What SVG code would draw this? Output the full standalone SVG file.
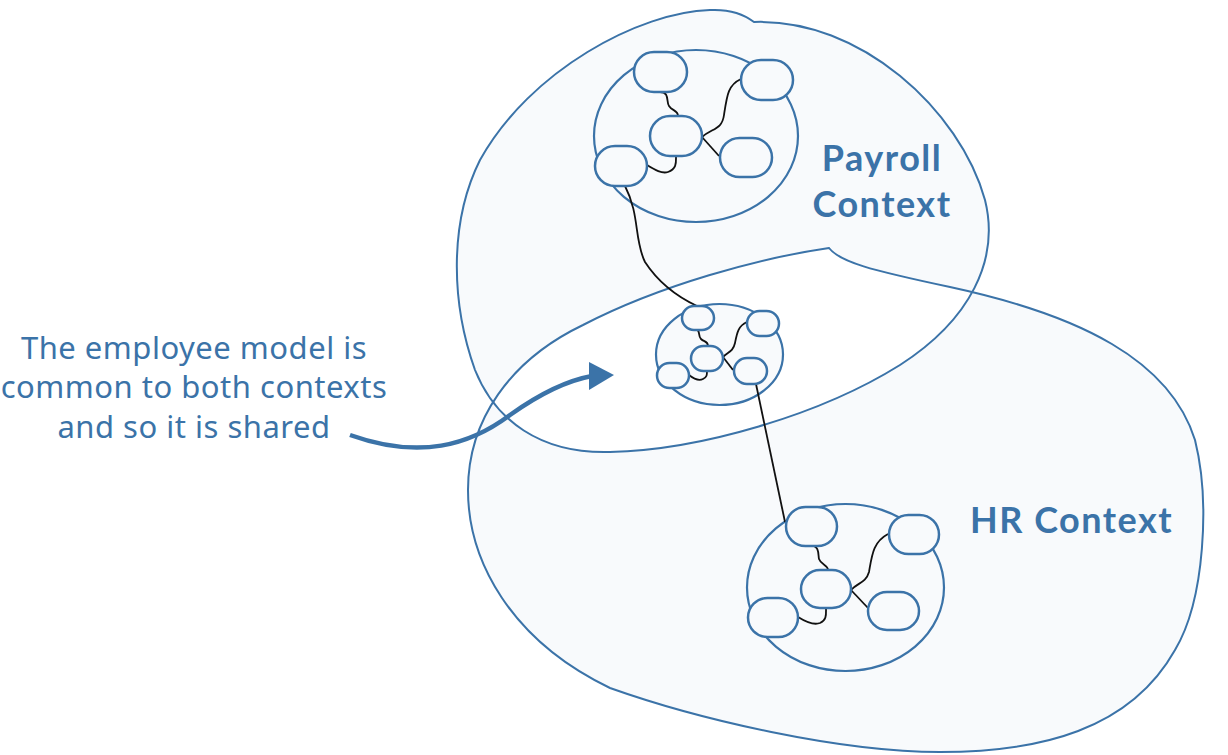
<svg xmlns="http://www.w3.org/2000/svg" width="1228" height="755" viewBox="0 0 1228 755">
<defs>
<style>
.blob{fill:#f8fafc;stroke:none}
.outline{fill:none;stroke:#3b73a8;stroke-width:2}
.ring{fill:#f8fafc;stroke:#3b73a8;stroke-width:2.2}
.node{fill:#f8fafc;stroke:#3b73a8;stroke-width:2.5}
.edge{fill:none;stroke:#111;stroke-width:1.8}
.lbl{font-family:"Lato","Noto Sans",sans-serif;font-weight:700;fill:#3b73a8;font-size:36px;letter-spacing:1.5px}
.note{font-family:"Noto Sans","Lato",sans-serif;fill:#3b73a8;text-anchor:middle;font-size:31px;letter-spacing:0.5px}
</style>
</defs>
<rect width="1228" height="755" fill="#ffffff"/>
<g id="contexts">
<path class="blob" fill-rule="evenodd" d="M 754,22 C 860,18 960,110 985,200 C 1000,260 970,320 900,365 C 820,415 700,450 610,452 C 540,454 495,420 475,370 C 450,300 450,220 480,160 C 530,70 640,12 710,10 C 730,9 745,15 754,22 Z M 829,248 C 840,262 870,270 950,287 C 1080,315 1170,360 1195,440 C 1210,500 1205,600 1175,650 C 1130,730 1040,752 940,752 C 840,752 700,720 610,688 C 510,640 468,560 468,490 C 468,420 510,360 583,325 C 660,285 760,258 829,248 Z"/>
<path id="payroll-outline" class="outline" d="M 754,22 C 860,18 960,110 985,200 C 1000,260 970,320 900,365 C 820,415 700,450 610,452 C 540,454 495,420 475,370 C 450,300 450,220 480,160 C 530,70 640,12 710,10 C 730,9 745,15 754,22 Z"/>
<path id="hr-outline" class="outline" d="M 829,248 C 840,262 870,270 950,287 C 1080,315 1170,360 1195,440 C 1210,500 1205,600 1175,650 C 1130,730 1040,752 940,752 C 840,752 700,720 610,688 C 510,640 468,560 468,490 C 468,420 510,360 583,325 C 660,285 760,258 829,248 Z"/>
</g>
<g id="payroll-model">
<ellipse class="ring" cx="696" cy="136" rx="102" ry="86"/>
</g>
<g id="shared-model">
<ellipse class="ring" cx="719.5" cy="354.5" rx="63.5" ry="50.5"/>
</g>
<g id="hr-model">
<ellipse class="ring" cx="845.5" cy="587.5" rx="98.5" ry="83.5"/>
</g>
<g id="connectors">
<path class="edge" d="M 660,92 C 670,92 666,102 669,106 C 672,111 678,110 678,116"/>
<path class="edge" d="M 702,137 C 712,128 722,130 724,115 C 727,95 728,85 741,79"/>
<path class="edge" d="M 702,137 L 719,156"/>
<path class="edge" d="M 647,165 C 655,170 662,174 668,172 C 677,169 676,162 676,156"/>
<path class="edge" d="M 625,186 C 640,215 634,240 645,262 C 660,285 680,298 697,306"/>
<path class="edge" d="M 697,330 C 700,330 698,336 701,339 C 704,342 708,341 708,346"/>
<path class="edge" d="M 723,357 C 728,352 733,352 735,343 C 737,333 738,326 747,322"/>
<path class="edge" d="M 723,357 L 733,370"/>
<path class="edge" d="M 689,375 C 694,379 699,381 703,379 C 707,377 707,375 707,371"/>
<path class="edge" d="M 756,384 L 785,522"/>
<path class="edge" d="M 811,545 C 820,546 818,556 819,559 C 821,565 828,565 828,570"/>
<path class="edge" d="M 851,590 C 857,583 866,583 869,572 C 872,555 873,542 888,534"/>
<path class="edge" d="M 851,590 L 868,608"/>
<path class="edge" d="M 798,617 C 806,622 815,625 820,623 C 827,620 826,614 826,608"/>
</g>
<g id="payroll-nodes">
<rect id="p-a" class="node" x="634" y="52" width="53" height="40" rx="20"/>
<rect id="p-b" class="node" x="741" y="60" width="52" height="40" rx="20"/>
<rect id="p-c" class="node" x="650" y="116" width="52" height="40" rx="20"/>
<rect id="p-d" class="node" x="720" y="138" width="52" height="39" rx="19.5"/>
<rect id="p-e" class="node" x="595" y="146" width="52" height="40" rx="20"/>
</g>
<g id="shared-nodes">
<rect id="s-a" class="node" x="682" y="306" width="32" height="24" rx="12"/>
<rect id="s-b" class="node" x="747" y="311" width="32" height="25" rx="12.5"/>
<rect id="s-c" class="node" x="691" y="346" width="32" height="25" rx="12.5"/>
<rect id="s-d" class="node" x="734" y="358" width="33" height="26" rx="13"/>
<rect id="s-e" class="node" x="657" y="363" width="32" height="25" rx="12.5"/>
</g>
<g id="hr-nodes">
<rect id="h-a" class="node" x="786" y="507" width="51" height="39" rx="19.5"/>
<rect id="h-b" class="node" x="889" y="515" width="50" height="39" rx="19.5"/>
<rect id="h-c" class="node" x="801" y="570" width="50" height="38" rx="19"/>
<rect id="h-d" class="node" x="868" y="592" width="51" height="38" rx="19"/>
<rect id="h-e" class="node" x="748" y="598" width="50" height="39" rx="19.5"/>
</g>
<g id="labels">
<text class="lbl" x="882" y="171" text-anchor="middle">Payroll</text>
<text class="lbl" x="882" y="217" text-anchor="middle">Context</text>
<text class="lbl" x="970" y="533">HR Context</text>
</g>
<g id="annotation">
<text class="note" x="194" y="359">The employee model is</text>
<text class="note" x="194" y="398">common to both contexts</text>
<text class="note" x="194" y="438">and so it is shared</text>
<path d="M 350,435 C 420,460 470,445 510,415 C 545,390 570,380 592,376" fill="none" stroke="#3b73a8" stroke-width="4.5"/>
<polygon points="589,362 614,375 589,390" fill="#3b73a8"/>
</g>
</svg>
